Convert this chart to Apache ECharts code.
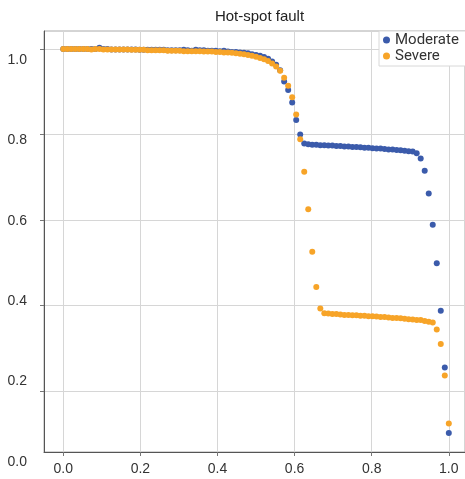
<!DOCTYPE html>
<html>
<head>
<meta charset="utf-8">
<script src="https://cdn.jsdelivr.net/npm/echarts@6/dist/echarts.min.js"></script>
<style>html,body{margin:0;padding:0;background:#fff;}#c{width:465px;height:479px;}</style>
</head>
<body>
<div id="c"></div>
<script>
const titleText = 'Hot-spot fault';
const seriesNames = ['Moderate', 'Severe'];
const xTickValues = [0, 0.2, 0.4, 0.6, 0.8, 1.0];
const yTickValues = [0.2, 0.4, 0.6, 0.8, 1.0];
const yLabelValues = [0, 0.2, 0.4, 0.6, 0.8, 1.0];
const sampleCount = 97; // samples equally spaced over [0, 1]

const moderate = [
  1.000,1.000,1.000,1.000,1.000,1.000,1.000,1.000,1.000,1.003,1.000,1.000,0.999,0.999,0.999,0.999,0.999,0.999,0.999,0.998,
  0.998,0.998,0.998,0.998,0.998,0.998,0.997,0.997,0.997,0.997,0.998,0.997,0.996,0.998,0.997,0.997,0.996,0.996,0.996,0.995,
  0.996,0.994,0.993,0.993,0.992,0.991,0.990,0.988,0.986,0.984,0.981,0.977,0.971,0.963,0.950,
  0.924,0.904,0.875,0.834,0.800,
  0.779,0.777,0.776,0.776,0.775,0.775,0.774,0.774,0.773,0.773,0.772,0.772,0.771,0.771,0.770,0.769,0.769,0.768,0.767,0.767,
  0.766,0.765,0.765,0.764,0.763,0.762,0.761,0.760,0.756,
  0.744,0.715,0.662,0.589,0.499,0.388,0.255,0.102
];
const severe = [
  1.000,1.000,1.000,1.000,1.000,1.000,1.000,0.999,1.000,1.000,0.999,0.999,0.999,0.999,0.999,0.999,0.999,0.998,0.998,0.998,
  0.998,0.997,0.997,0.997,0.997,0.997,0.996,0.996,0.996,0.996,0.995,0.995,0.995,0.995,0.995,0.994,0.994,0.994,0.993,0.993,
  0.992,0.992,0.991,0.990,0.989,0.988,0.986,0.984,0.982,0.979,0.976,0.972,0.966,0.959,0.949,
  0.933,0.914,0.887,0.847,0.789,0.713,0.625,0.526,0.443,0.393,
  0.382,0.381,0.380,0.380,0.379,0.378,0.378,0.377,0.377,0.376,0.376,0.375,0.375,0.374,0.373,0.373,0.372,0.371,0.371,0.370,
  0.369,0.368,0.367,0.366,0.366,0.364,0.362,0.360,
  0.344,0.310,0.236,0.124
];

function pairs(ys) {
  return ys.map((y, i) => [i / (sampleCount - 1), y]);
}

const chart = echarts.init(document.getElementById('c'), null, {renderer: 'canvas'});
const fmt = v => Number(v).toFixed(1);
const font = 'Liberation Sans, Arial, sans-serif';

chart.setOption({
  animation: false,
  backgroundColor: '#fff',
  title: {
    text: titleText,
    left: 254.5, top: 4, textAlign: 'center',
    textStyle: {fontFamily: font, fontSize: 15, fontWeight: 'normal', color: '#222'}
  },
  legend: {
    data: seriesNames,
    orient: 'vertical',
    left: 379, top: 31,
    padding: [1, 30, 2, 4],
    itemGap: 0,
    itemWidth: 7, itemHeight: 7,
    icon: 'circle',
    backgroundColor: '#fff',
    borderColor: '#d8d8d8', borderWidth: 1,
    textStyle: {fontFamily: 'Roboto, sans-serif', fontSize: 15, color: '#333', lineHeight: 16}
  },
  grid: [
    {left: 44, right: 0, top: 31, bottom: 27, show: true, borderColor: '#aaa', borderWidth: 1, backgroundColor: 'transparent'},
    {left: 44, width: 10, top: 60, bottom: 17}
  ],
  xAxis: [
    {
      type: 'value', gridIndex: 0, min: -0.05, max: 1.042,
      axisLine: {show: true, onZero: false, lineStyle: {color: '#555'}},
      axisTick: {show: true, length: 4, lineStyle: {color: '#777'}, customValues: xTickValues},
      axisLabel: {customValues: xTickValues, formatter: fmt, fontFamily: font, fontSize: 14, color: '#333', margin: 10},
      splitLine: {show: true, lineStyle: {color: '#d6d6d6'}}
    },
    {type: 'value', gridIndex: 1, show: false}
  ],
  yAxis: [
    {
      type: 'value', gridIndex: 0, min: 0.0573, max: 1.0421,
      axisLine: {show: true, onZero: false, lineStyle: {color: '#555'}},
      axisTick: {show: true, length: 4, lineStyle: {color: '#777'}, customValues: yTickValues},
      axisLabel: {show: false, customValues: yTickValues},
      splitLine: {show: true, lineStyle: {color: '#d6d6d6'}}
    },
    {
      type: 'value', gridIndex: 1, min: 0, max: 1, interval: 0.2,
      axisLine: {show: false}, axisTick: {show: false}, splitLine: {show: false},
      axisLabel: {formatter: fmt, fontFamily: font, fontSize: 14, color: '#333', margin: 17,
        customValues: yLabelValues}
    }
  ],
  series: [
    {name: seriesNames[0], type: 'scatter', xAxisIndex: 0, yAxisIndex: 0, data: pairs(moderate),
      symbolSize: 6, itemStyle: {color: '#3b5bab', opacity: 1}},
    {name: seriesNames[1], type: 'scatter', xAxisIndex: 0, yAxisIndex: 0, data: pairs(severe),
      symbolSize: 6, itemStyle: {color: '#f7a428', opacity: 1}}
  ]
});
</script>
</body>
</html>
